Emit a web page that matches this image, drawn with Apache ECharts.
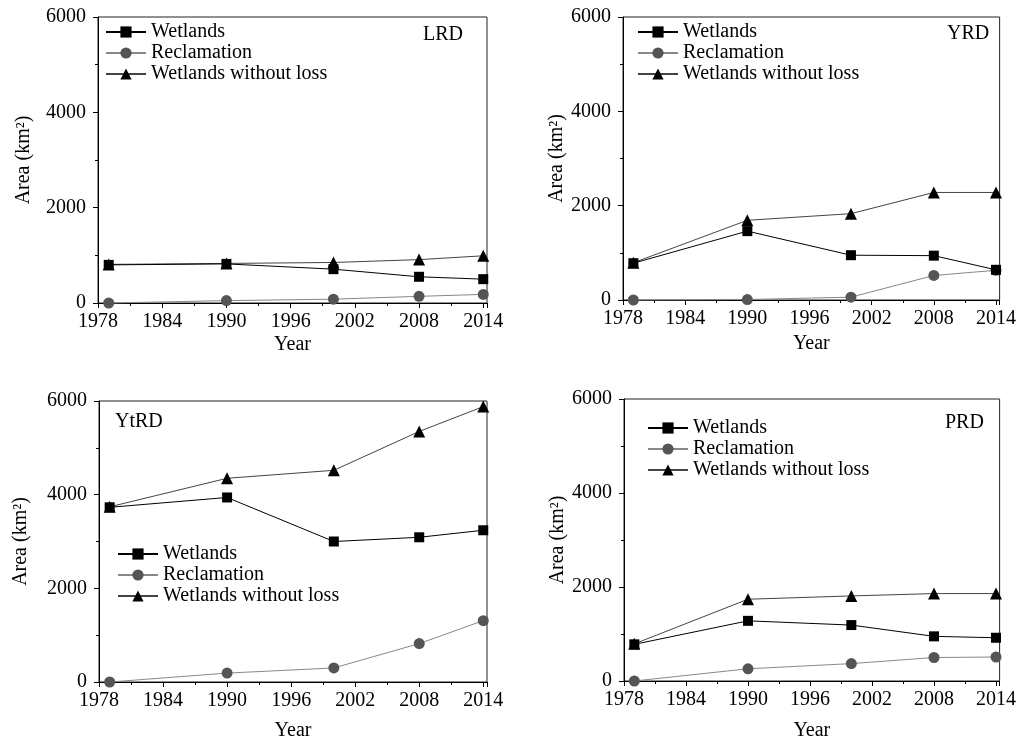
<!DOCTYPE html>
<html>
<head>
<meta charset="utf-8">
<script src="https://cdn.jsdelivr.net/npm/echarts@6/dist/echarts.min.js"></script>
<style>html,body{margin:0;padding:0;background:#fff;}#c{width:1019px;height:742px;}</style>
</head>
<body>
<div id="c"></div>
<script>
const years = [1979, 1990, 2000, 2008, 2014];
const xTicks = [1978, 1984, 1990, 1996, 2002, 2008, 2014];
const seriesNames = ['Wetlands', 'Reclamation', 'Wetlands without loss'];

const panelNames = ['LRD', 'YRD', 'YtRD', 'PRD'];
const lrdWetlands = [800, 820, 710, 550, 500];
const lrdReclamation = [0, 50, 80, 140, 180];
const lrdWithoutLoss = [810, 830, 850, 910, 990];

const yrdWetlands = [780, 1460, 950, 940, 640];
const yrdReclamation = [0, 10, 60, 520, 630];
const yrdWithoutLoss = [790, 1690, 1830, 2280, 2280];

const ytrdWetlands = [3730, 3940, 3000, 3090, 3240];
const ytrdReclamation = [0, 190, 300, 820, 1310];
const ytrdWithoutLoss = [3740, 4350, 4520, 5350, 5880];

const prdWetlands = [780, 1280, 1190, 950, 920];
const prdReclamation = [0, 260, 370, 500, 510];
const prdWithoutLoss = [790, 1740, 1810, 1860, 1860];

const panelData = [
  [lrdWetlands, lrdReclamation, lrdWithoutLoss],
  [yrdWetlands, yrdReclamation, yrdWithoutLoss],
  [ytrdWetlands, ytrdReclamation, ytrdWithoutLoss],
  [prdWetlands, prdReclamation, prdWithoutLoss]
];

const FONT = '"Liberation Serif", "Times New Roman", serif';
const grids = [
  {left: 98, top: 17, width: 389, height: 286},
  {left: 623, top: 17, width: 384, height: 283},
  {left: 99, top: 401, width: 388, height: 283},
  {left: 624, top: 399, width: 385, height: 285}
];
const yNameGaps = [64, 55, 68, 56];
const xNameGaps = [32, 34, 39, 40];
const legendPos = [
  {left: 105, top: 22},
  {left: 637, top: 22},
  {left: 117, top: 544},
  {left: 647, top: 418}
];
const titlePos = [
  {left: 423, top: 25},
  {left: 947, top: 24},
  {left: 115, top: 412},
  {left: 945, top: 413}
];
const symbols = ['rect', 'circle', 'triangle'];
const symbolSizes = [10, 11, 12];
const markerColors = ['#000', '#555', '#000'];
const lineColors = ['#000', '#888', '#444'];

const option = {
  animation: false,
  backgroundColor: '#fff',
  textStyle: {fontFamily: FONT},
  title: [], legend: [], grid: [], xAxis: [], yAxis: [], series: []
};

grids.forEach((g, i) => {
  option.grid.push(Object.assign({show: true, borderColor: '#222', borderWidth: 1, containLabel: false}, g));
  option.title.push(Object.assign({
    text: panelNames[i],
    textStyle: {fontFamily: FONT, fontSize: 20, fontWeight: 'normal', color: '#000'},
    padding: 0
  }, titlePos[i]));
  option.legend.push(Object.assign({
    orient: 'vertical',
    itemWidth: 40, itemHeight: 14, itemGap: 1,
    textStyle: {fontFamily: FONT, fontSize: 20, color: '#000', lineHeight: 20},
    padding: 0,
    data: seriesNames.map(n => ({name: n})),
    selectedMode: false
  }, legendPos[i]));
  option.xAxis.push({
    type: 'value', gridIndex: i, min: 1978, max: 2014.35, interval: 6,
    name: 'Year', nameLocation: 'middle', nameGap: xNameGaps[i],
    nameTextStyle: {fontFamily: FONT, fontSize: 20, color: '#000'},
    axisLine: {show: true, onZero: false, lineStyle: {color: '#000', width: 1}},
    axisTick: {show: true, length: 5, lineStyle: {color: '#000'}},
    minorTick: {show: true, splitNumber: 2, length: 3, lineStyle: {color: '#000'}},
    splitLine: {show: false},
    axisLabel: {
      fontFamily: FONT, fontSize: 20, color: '#000', margin: 9,
      showMinLabel: true, showMaxLabel: true,
      formatter: v => (xTicks.indexOf(Math.round(v * 100) / 100) >= 0 ? String(v) : '')
    }
  });
  option.yAxis.push({
    type: 'value', gridIndex: i, min: 0, max: 6000, interval: 2000,
    name: 'Area (km²)', nameLocation: 'middle', nameGap: yNameGaps[i], nameRotate: 90,
    nameTextStyle: {fontFamily: FONT, fontSize: 20, color: '#000'},
    axisLine: {show: true, lineStyle: {color: '#000', width: 1}},
    axisTick: {show: true, length: 5, lineStyle: {color: '#000'}},
    minorTick: {show: true, splitNumber: 2, length: 3, lineStyle: {color: '#000'}},
    splitLine: {show: false},
    axisLabel: {fontFamily: FONT, fontSize: 20, color: '#000', margin: 12, formatter: v => String(v)}
  });
  panelData[i].forEach((vals, k) => {
    option.series.push({
      type: 'line',
      name: seriesNames[k],
      xAxisIndex: i, yAxisIndex: i,
      data: years.map((y, j) => [y, vals[j]]),
      symbol: symbols[k], symbolSize: symbolSizes[k],
      showSymbol: true, clip: false,
      lineStyle: {color: lineColors[k], width: 1},
      itemStyle: {color: markerColors[k]},
      z: 3 - k
    });
  });
});

const chart = echarts.init(document.getElementById('c'), null, {renderer: 'canvas'});
chart.setOption(option);
</script>
</body>
</html>
